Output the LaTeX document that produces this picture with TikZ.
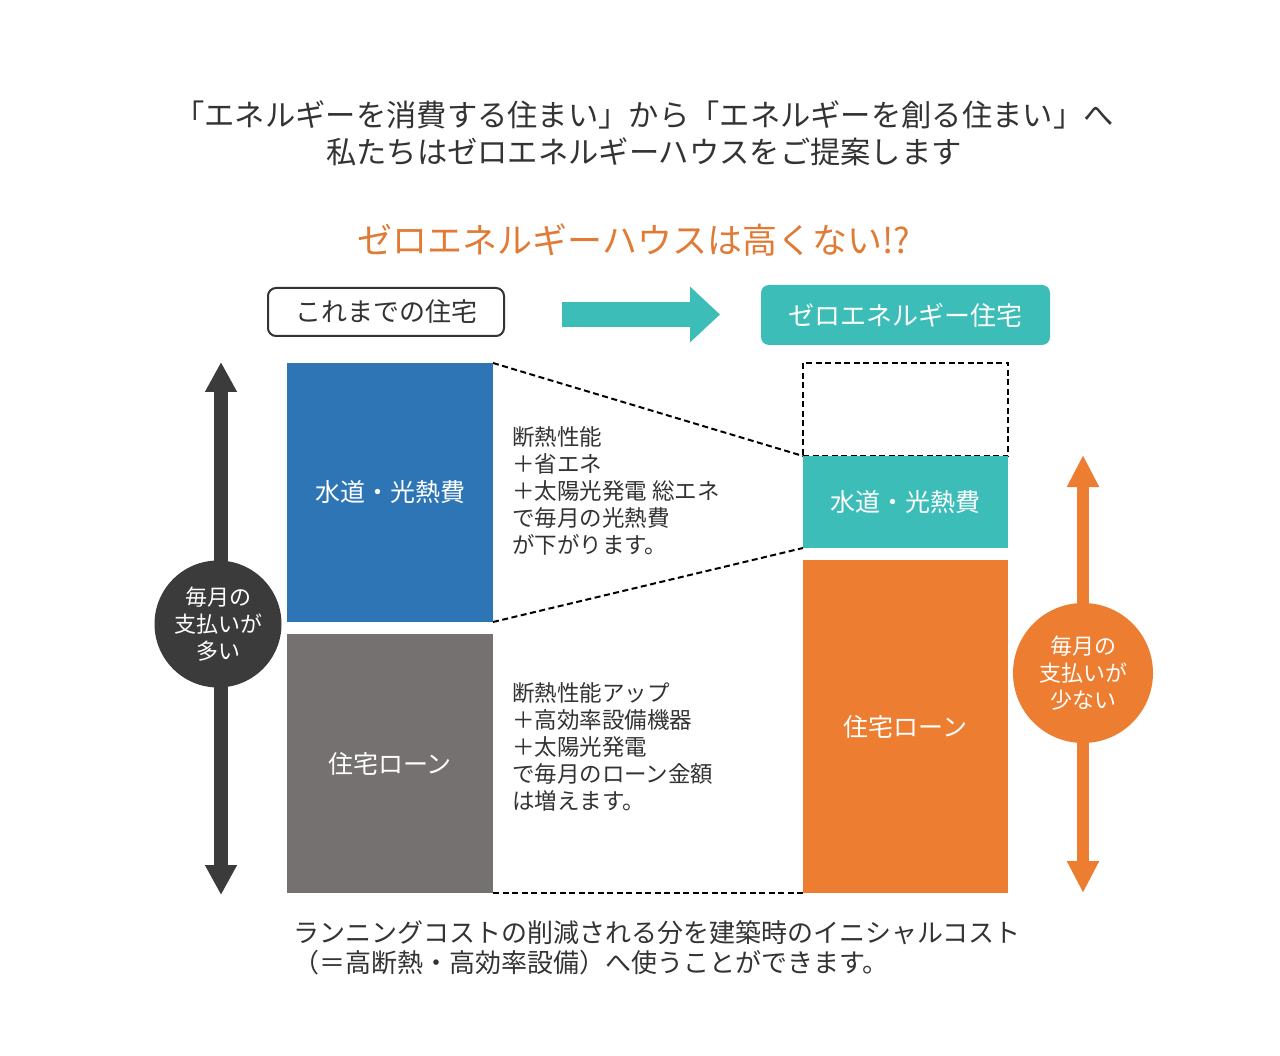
\documentclass[tikz,border=0pt]{standalone}
\usepackage{fontspec}
\setmainfont{Noto Sans CJK JP}
\usetikzlibrary{arrows.meta}

\begin{document}
\begin{tikzpicture}[x=1pt,y=-1pt,line cap=butt,
	bar/.style={rectangle, inner sep=0, outer sep=0, minimum width=206pt, text=white, font=\fontsize{25pt}{30pt}\selectfont},
	memo/.style={inner sep=0, outer sep=0, anchor=north west, align=left, text=custcol_33, font=\fontsize{22.5pt}{27pt}\selectfont},
	badge/.style={circle, inner sep=0, outer sep=0, align=center, text=white, font=\fontsize{22pt}{27pt}\selectfont},
	guide/.style={line width=2pt, dash pattern=on 6pt off 3.5pt, custcol_0_0_0}]
	\definecolor{custcol_33}{RGB}{51, 51, 51}
	\definecolor{custcol_0_0_0}{RGB}{0, 0, 0}
	\definecolor{custcol_3b}{RGB}{59, 59, 59}
	\definecolor{custcol_2e_75_b6}{RGB}{46, 117, 182}
	\definecolor{custcol_76_71_71}{RGB}{118, 113, 113}
	\definecolor{custcol_3c_bd_b8}{RGB}{60, 189, 184}
	\definecolor{custcol_ed_7d_31}{RGB}{237, 125, 49}
	\definecolor{custcol_e0_7a_35}{RGB}{224, 122, 53}
	\useasboundingbox (0,0) rectangle (1280,1056);
	% heading
	\node[inner sep=0, align=center, text=custcol_33, font=\fontsize{30.3pt}{37pt}\selectfont] (title) at (644,133.5)
		{「エネルギーを消費する住まい」から「エネルギーを創る住まい」へ\\私たちはゼロエネルギーハウスをご提案します};
	\node[inner sep=0, text=custcol_e0_7a_35, font=\fontsize{35pt}{35pt}\selectfont] (catch) at (634,240) {ゼロエネルギーハウスは高くない!?};
	% captions
	\node[draw=custcol_33, line width=2pt, rounded corners=8pt, minimum width=236pt, minimum height=48pt, inner sep=0, text=custcol_33, font=\fontsize{26pt}{26pt}\selectfont] (before) at (386,312) {これまでの住宅};
	\node[fill=custcol_3c_bd_b8, rounded corners=8pt, minimum width=289pt, minimum height=60pt, inner sep=0, text=white, font=\fontsize{26pt}{26pt}\selectfont] (after) at (905.5,315) {ゼロエネルギー住宅};
	\coordinate (go0) at (562,314.5);
	\coordinate (go1) at (720,314.5);
	\draw[line width=25pt, custcol_3c_bd_b8, -{Triangle[width=54pt,length=30pt]}] (go0) -- (go1);
	% old house
	\node[bar, fill=custcol_2e_75_b6, minimum height=259pt] (util0) at (390,492.5) {水道・光熱費};
	\node[bar, fill=custcol_76_71_71, minimum height=259pt] (loan0) at (390,763.5) {住宅ローン};
	% zero energy house
	\node[bar, draw=custcol_0_0_0, line width=2pt, dash pattern=on 6pt off 3.5pt, minimum width=205pt, minimum height=93pt] (saved) at (905.5,409.5) {};
	\node[bar, fill=custcol_3c_bd_b8, minimum width=205pt, minimum height=92pt] (util1) at (905.5,502) {水道・光熱費};
	\node[bar, fill=custcol_ed_7d_31, minimum width=205pt, minimum height=333pt] (loan1) at (905.5,726.5) {住宅ローン};
	\draw[guide] (util0.north east) -- (saved.south west);
	\draw[guide] (util0.south east) -- (util1.south west);
	\draw[guide] (loan0.south east) -- (loan1.south west);
	% notes
	\node[memo] (note0) at (512,427) {断熱性能\\＋省エネ\\＋太陽光発電 総エネ\\で毎月の光熱費\\が下がります。};
	\node[memo] (note1) at (512,683) {断熱性能アップ\\＋高効率設備機器\\＋太陽光発電\\で毎月のローン金額\\は増えます。};
	% left scale
	\coordinate (l0) at (221,362);
	\coordinate (l1) at (221,895);
	\draw[line width=14pt, custcol_3b, {Triangle[width=30pt,length=30pt]}-{Triangle[width=30pt,length=30pt]}] (l0) -- (l1);
	\node[badge, fill=custcol_3b, minimum size=127pt] (much) at (218,624) {毎月の\\支払いが\\多い};
	% right scale
	\coordinate (r0) at (1083,455);
	\coordinate (r1) at (1083,893);
	\draw[line width=12pt, custcol_ed_7d_31, {Triangle[width=30pt,length=32pt]}-{Triangle[width=30pt,length=32pt]}] (r0) -- (r1);
	\node[badge, fill=custcol_ed_7d_31, minimum size=140pt] (less) at (1083,673) {毎月の\\支払いが\\少ない};
	% footer
	\node[inner sep=0, anchor=west, align=left, text=custcol_33, font=\fontsize{26pt}{30pt}\selectfont] (foot) at (293,948)
		{ランニングコストの削減される分を建築時のイニシャルコスト\\（＝高断熱・高効率設備）へ使うことができます。};
\end{tikzpicture}
\end{document}
